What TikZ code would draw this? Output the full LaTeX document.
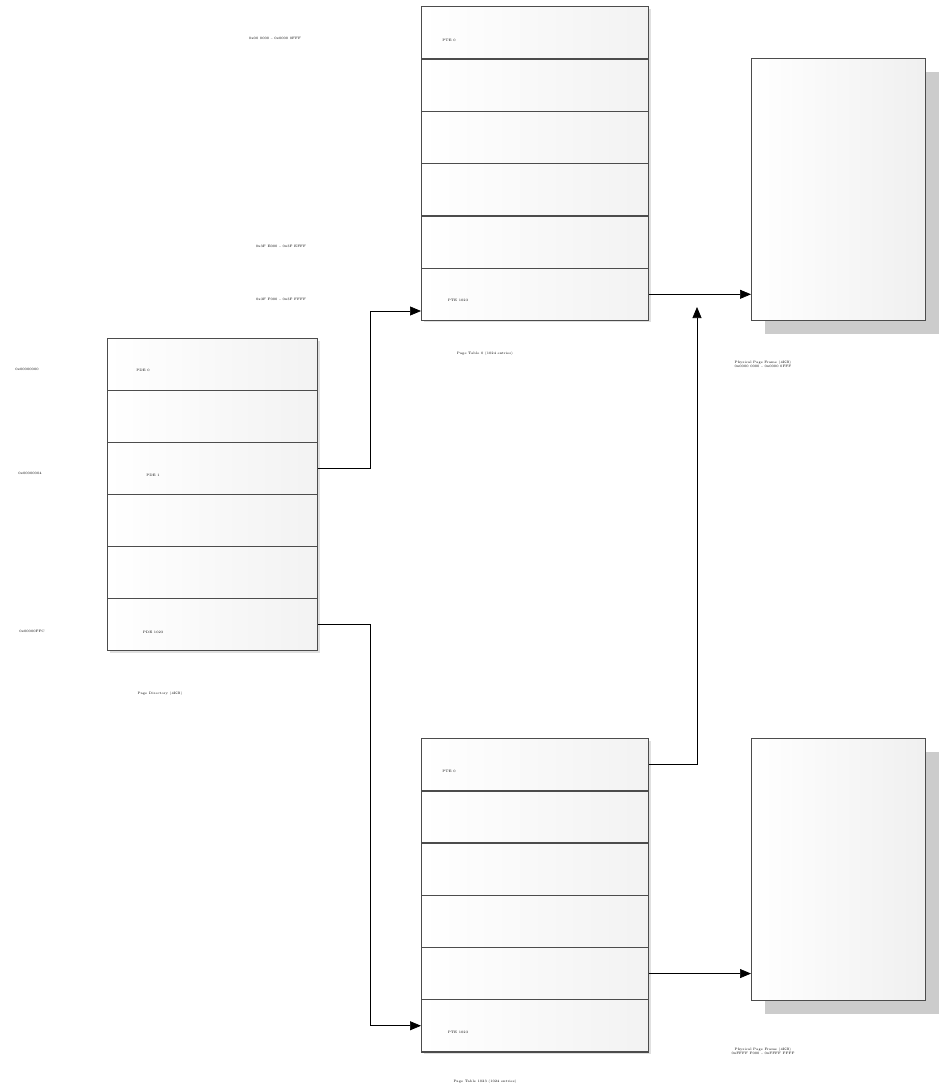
\documentclass[tikz,border=0pt]{standalone}
\usetikzlibrary{arrows.meta,shadows}
\tikzset{
  entry/.style={draw=black!70, line width=1.3pt, left color=white, right color=black!5, inner sep=0pt, anchor=north west,
    drop shadow={shadow xshift=2pt, shadow yshift=-2pt, fill=black!12, opacity=1}},
  frame/.style={draw=black!70, line width=1.3pt, left color=white, right color=black!6, inner sep=0pt, anchor=north west,
    minimum width=174pt, minimum height=262pt,
    drop shadow={shadow xshift=13pt, shadow yshift=-13pt, fill=black!20, opacity=1}},
  tiny/.style={font=\fontsize{3.4}{4}\selectfont, inner sep=0pt, align=center},
  link/.style={-{Triangle[length=11pt,width=9pt]}, line width=0.7pt}
}
\begin{document}
\begin{tikzpicture}[x=1pt,y=-1pt]
	\useasboundingbox (0,0) rectangle (939,1085);
	\foreach \i in {1,...,6} {
		\node[entry, minimum width=210pt, minimum height=52pt] (d\i) at (107,{338+52*(\i-1)}) {};
		\node[entry, minimum width=227pt, minimum height=52.3pt] (t\i) at (421,{6+52.3*(\i-1)}) {};
		\node[entry, minimum width=227pt, minimum height=52.2pt] (b\i) at (421,{738+52.2*(\i-1)}) {};
	}
	\node[frame] (p1) at (751,58) {};
	\node[frame] (p2) at (751,738) {};
	\node[tiny] (dt1) at (143,370) {PDE 0};
	\node[tiny] (dt3) at (153,475) {PDE 1};
	\node[tiny] (dt6) at (153,632) {PDE 1023};
	\node[tiny] (dl1) at (27,369) {0x00000000};
	\node[tiny] (dl3) at (30,473) {0x00000004};
	\node[tiny] (dl6) at (32,631) {0x00000FFC};
	\node[tiny] (dcap) at (160,694) {Page Directory (4KB)};
	\node[tiny] (tt1) at (449,40) {PTE 0};
	\node[tiny] (tt6) at (458,300) {PTE 1023};
	\node[tiny] (tl1) at (275,38) {0x00 0000 \textasciitilde{} 0x0000 0FFF};
	\node[tiny] (tl5) at (281,246) {0x3F E000 \textasciitilde{} 0x3F EFFF};
	\node[tiny] (tl6) at (281,299) {0x3F F000 \textasciitilde{} 0x3F FFFF};
	\node[tiny] (tcap) at (485,354) {Page Table 0 (1024 entries)};
	\node[tiny] (bt1) at (449,771) {PTE 0};
	\node[tiny] (bt6) at (458,1032) {PTE 1023};
	\node[tiny] (bcap) at (485,1082) {Page Table 1023 (1024 entries)};
	\node[tiny] (pcap1) at (763,364) {Physical Page Frame (4KB)\\0x0000 0000 \textasciitilde{} 0x0000 0FFF};
	\node[tiny] (pcap2) at (763,1051) {Physical Page Frame (4KB)\\0xFFFF F000 \textasciitilde{} 0xFFFF FFFF};
	\coordinate (in1) at (421,311);
	\coordinate (up1) at (697,307);
	\draw[link] (d3.east) -- ++(52,0) |- (in1);
	\draw[link] (d6.east) -- ++(52,0) |- (b6.west);
	\draw[link] (t6.east) -- (p1.west |- t6.east);
	\draw[link] (b1.east) -| (up1);
	\draw[link] (b5.east) -- (p2.west |- b5.east);
\end{tikzpicture}
\end{document}
